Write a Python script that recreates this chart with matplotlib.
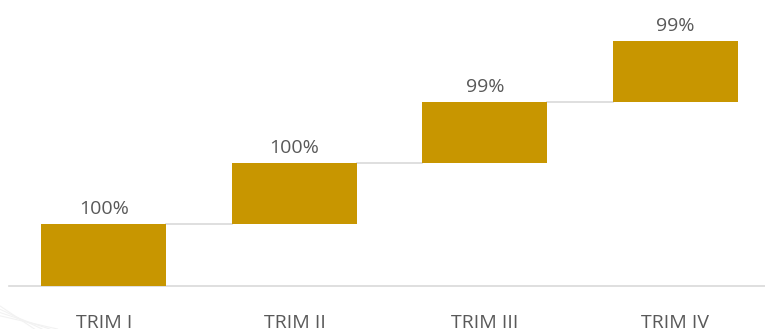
import matplotlib.pyplot as plt

# quarterly values (waterfall steps)
categories = ['TRIM I', 'TRIM II', 'TRIM III', 'TRIM IV']
values = [100, 100, 99, 99]
labels = ['100%', '100%', '99%', '99%']

gold = '#C89600'
grey_txt = '#595959'
grey_line = '#D9D9D9'


def main():
    fig = plt.figure(figsize=(7.65, 3.29), dpi=100)
    ax = fig.add_axes([0.0114, 0.1307, 0.9886, 0.854])

    bottoms = []
    run = 0
    for v in values:
        bottoms.append(run)
        run += v

    x = list(range(len(categories)))
    w = 0.656
    ax.bar(x, values, bottom=bottoms, width=w, color=gold, edgecolor='none', zorder=3)

    # connectors between bars
    for i in range(len(values) - 1):
        top = bottoms[i] + values[i]
        ax.plot([x[i] + w / 2, x[i + 1] - w / 2], [top, top], color=grey_line,
                lw=1.2, zorder=2)

    for i, lab in enumerate(labels):
        ax.text(x[i], bottoms[i] + values[i] + 10, lab, ha='center', va='bottom',
                fontsize=14, color=grey_txt, family='Open Sans')

    ax.set_xlim(-0.5, 3.47)
    ax.set_ylim(0, 456)
    ax.set_xticks(x)
    ax.set_xticklabels(categories, fontsize=14, color=grey_txt, family='Open Sans')
    ax.tick_params(axis='x', length=0, pad=20)
    ax.set_yticks([])
    for s in ['top', 'right', 'left']:
        ax.spines[s].set_visible(False)
    ax.spines['bottom'].set_color(grey_line)
    ax.spines['bottom'].set_linewidth(1.2)

    # faint decoration in lower-left corner
    for k in range(4):
        fig.add_artist(plt.Line2D([0.0, 0.045 + 0.01 * k], [0.07 - 0.01 * k, 0.0],
                                  color='#F2F2F2', lw=0.8, transform=fig.transFigure))

    fig.savefig('out.png', dpi=100)


if __name__ == '__main__':
    main()
